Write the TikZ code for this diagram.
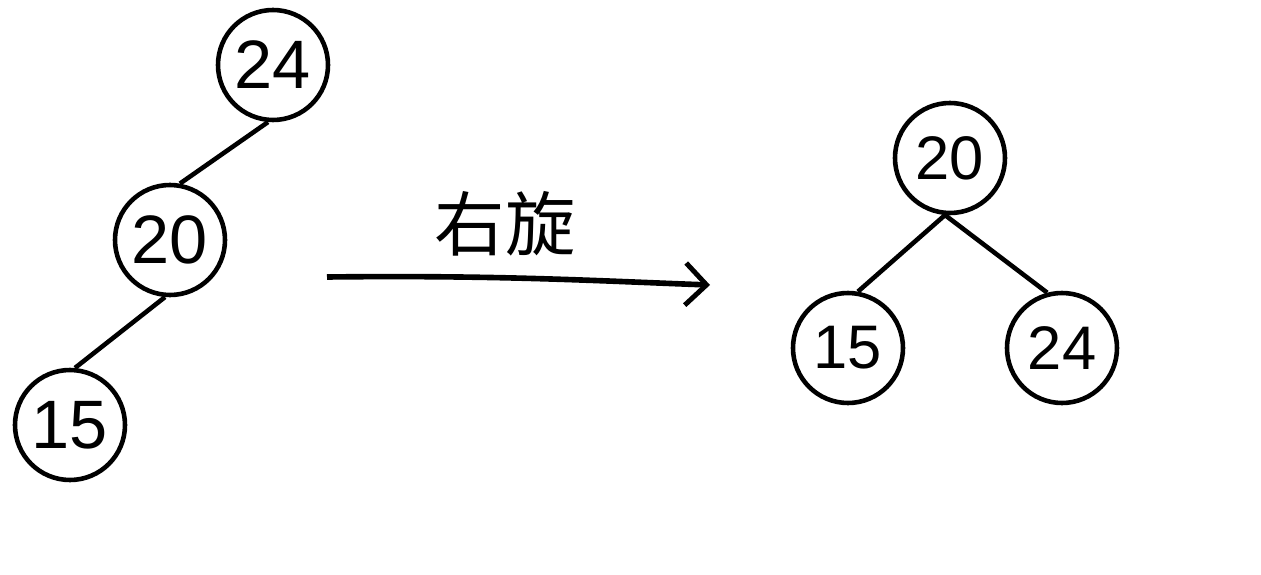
\documentclass[tikz,border=0pt]{standalone}
\usepackage{fontspec}
\setmainfont{Liberation Sans}
\newfontfamily\cjk{Noto Sans CJK SC}
\usetikzlibrary{arrows.meta}

\tikzset{
  key/.style={draw, circle, line width=1.3pt, minimum size=1.1cm, inner sep=0pt,
    font=\fontsize{19.5}{23}\selectfont},
  newkey/.style={key, font=\fontsize{17.5}{21}\selectfont},
  edge/.style={line width=1.3pt}
}

\begin{document}
\begin{tikzpicture}[>={Straight Barb[length=6pt, width=12pt, line width=1.4pt]}]
\useasboundingbox (0,0) rectangle (12.61,5.74);
% before rotation
\node[key] (a24) at (2.73,5.09) {24};
\node[key] (a20) at (1.70,3.34) {20};
\node[key] (a15) at (0.70,1.49) {15};
\draw[edge] (a24.-95) -- (a20.80);
\draw[edge] (a20.-95) -- (a15.85);
% rotation arrow
\coordinate (start) at (3.27,2.97);
\coordinate (stop) at (7.10,2.89);
\draw[->, line width=1.6pt] (start) .. controls (5.0,2.99) and (6.0,2.93) .. (stop);
\node[font=\cjk\fontsize{20}{24}\selectfont] (label) at (5.05,3.50) {右旋};
% after rotation
\node[newkey] (b20) at (9.50,4.16) {20};
\node[newkey] (b15) at (8.48,2.26) {15};
\node[newkey] (b24) at (10.62,2.26) {24};
\draw[edge] (b20.-95) -- (b15.80);
\draw[edge] (b20.-95) -- (b24.105);
\end{tikzpicture}
\end{document}
